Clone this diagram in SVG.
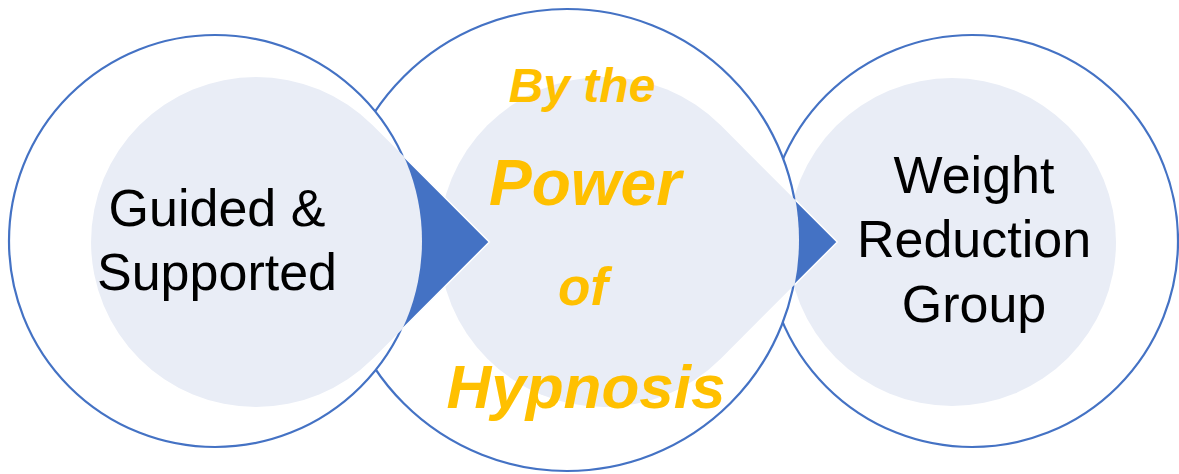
<svg xmlns="http://www.w3.org/2000/svg" width="1179" height="474" viewBox="0 0 1179 474">
  <style>
    .outer { fill: #FFFFFF; stroke: #4472C4; stroke-width: 2.2; }
    .inner { fill: #E9EDF6; stroke: none; }
    .arrow { fill: #4472C4; stroke: #FFFFFF; stroke-width: 1.5; stroke-linejoin: miter; }
    .lbl { font-family: "Liberation Sans", Arial, sans-serif; font-size: 52px; fill: #000000; text-anchor: middle; }
    .hyp { font-family: "Liberation Sans", Arial, sans-serif; font-weight: bold; font-style: italic; fill: #FFC000; text-anchor: middle; }
  </style>
  <defs>
    <mask id="outside1" maskUnits="userSpaceOnUse" x="0" y="0" width="1179" height="474">
      <rect x="0" y="0" width="1179" height="474" fill="#FFFFFF"/>
      <circle cx="215" cy="241" r="207" fill="#000000"/>
    </mask>
    <mask id="outside2" maskUnits="userSpaceOnUse" x="0" y="0" width="1179" height="474">
      <rect x="0" y="0" width="1179" height="474" fill="#FFFFFF"/>
      <circle cx="567" cy="240" r="232" fill="#000000"/>
    </mask>
  </defs>
  <rect x="0" y="0" width="1179" height="474" fill="#FFFFFF"/>

  <g id="node-weight-reduction-group">
    <circle class="outer" cx="972" cy="241" r="206"/>
    <circle class="inner" cx="952" cy="242" r="164"/>
    <text class="lbl" x="974" y="193">Weight</text>
    <text class="lbl" x="974" y="257">Reduction</text>
    <text class="lbl" x="974" y="322">Group</text>
  </g>

  <g id="node-power-of-hypnosis">
    <circle class="outer" cx="567" cy="240" r="231"/>
    <path class="inner" d="M837.3,242 L720.7,125.3 A165,165 0 1 0 720.7,358.7 Z"/>
    <text class="hyp" x="582" y="102" font-size="48">By the</text>
    <text class="hyp" x="585" y="205" font-size="64">Power</text>
    <text class="hyp" x="583" y="305" font-size="53">of</text>
    <text class="hyp" x="586" y="408" font-size="62">Hypnosis</text>
  </g>

  <g id="node-guided-supported">
    <circle class="outer" cx="215" cy="241" r="206"/>
    <path class="inner" d="M489.3,242 L372.7,125.3 A165,165 0 1 0 372.7,358.7 Z"/>
    <text class="lbl" x="217" y="226">Guided &amp;</text>
    <text class="lbl" x="217" y="290">Supported</text>
  </g>

  <g id="connectors">
    <polygon class="arrow" mask="url(#outside1)" points="372.7,125.3 489.3,242 372.7,358.7"/>
    <polygon class="arrow" mask="url(#outside2)" points="720.7,125.3 837.3,242 720.7,358.7"/>
  </g>
</svg>
